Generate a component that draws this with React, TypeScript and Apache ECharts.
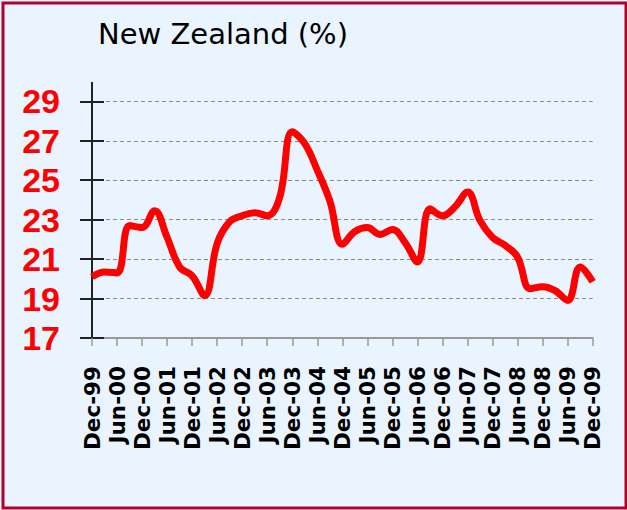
import React, { useEffect, useRef } from "react";
import * as echarts from "echarts";

const quarters = [
  "Dec-99", "Mar-00", "Jun-00", "Sep-00", "Dec-00", "Mar-01", "Jun-01", "Sep-01",
  "Dec-01", "Mar-02", "Jun-02", "Sep-02", "Dec-02", "Mar-03", "Jun-03", "Sep-03",
  "Dec-03", "Mar-04", "Jun-04", "Sep-04", "Dec-04", "Mar-05", "Jun-05", "Sep-05",
  "Dec-05", "Mar-06", "Jun-06", "Sep-06", "Dec-06", "Mar-07", "Jun-07", "Sep-07",
  "Dec-07", "Mar-08", "Jun-08", "Sep-08", "Dec-08", "Mar-09", "Jun-09", "Sep-09",
  "Dec-09",
];

const values = [
  20.1, 20.35, 20.3, 22.7, 22.6, 23.45, 22.1, 20.6, 20.15, 19.15,
  21.8, 22.9, 23.2, 23.35, 23.2, 24.15, 27.45, 26.85, 25.5, 23.95,
  21.75, 22.4, 22.6, 22.25, 22.5, 21.85, 20.85, 23.55, 23.2, 23.65,
  24.4, 22.95, 22.1, 21.7, 21.1, 19.5, 19.6, 19.4, 18.9, 20.6,
  19.85,
];

const titleText = "New Zealand (%)";
const yMin = 17;
const yMax = 29;
const yStep = 2;

export default function App() {
  const ref = useRef<HTMLDivElement>(null);

  useEffect(() => {
    if (!ref.current) return;
    const chart = echarts.init(ref.current, null, { renderer: "svg" });
    const axisY = {
      type: "value",
      min: yMin,
      max: yMax,
      interval: yStep,
      position: "left",
    };
    chart.setOption({
      animation: false,
      backgroundColor: "#EAF4FE",
      grid: { left: 92, right: 34.3, top: 101.3, bottom: 172, containLabel: false },
      graphic: [
        {
          type: "rect",
          shape: { x: 3, y: 3, width: 623, height: 505 },
          style: { fill: "none", stroke: "#B0002E", lineWidth: 3 },
          z: 100,
        },
        {
          type: "line",
          shape: { x1: 92, y1: 82, x2: 92, y2: 102 },
          style: { stroke: "#222", lineWidth: 2 },
          z: 100,
        },
        {
          type: "text",
          x: 98,
          y: 33.5,
          style: {
            text: titleText,
            fontFamily: "DejaVu Sans",
            fontSize: 29,
            fontWeight: "normal",
            fill: "#000",
            verticalAlign: "middle",
            align: "left",
          },
          z: 100,
        },
      ],
      xAxis: {
        type: "category",
        data: quarters,
        boundaryGap: false,
        axisLine: { show: true, lineStyle: { color: "#9A9A9A", width: 2 } },
        axisTick: {
          show: true,
          interval: 1,
          length: 8,
          lineStyle: { color: "#9A9A9A", width: 1.5 },
        },
        axisLabel: {
          interval: 1,
          rotate: 90,
          margin: 28,
          color: "#000",
          fontFamily: "DejaVu Sans",
          fontWeight: "bold",
          fontSize: 21.5,
        },
        splitLine: { show: false },
      },
      yAxis: [
        {
          ...axisY,
          axisLine: { show: true, onZero: false, lineStyle: { color: "#222", width: 2 } },
          axisTick: { show: true, inside: false, length: 12, lineStyle: { color: "#222", width: 2 } },
          axisLabel: {
            margin: 32,
            color: "#FF0000",
            fontFamily: "Liberation Sans",
            fontWeight: "bold",
            fontSize: 34,
          },
          splitLine: {
            show: true,
            lineStyle: { color: "#8C8C8C", width: 1.2, type: [4, 3] },
          },
        },
        {
          ...axisY,
          axisLine: { show: false },
          axisTick: { show: true, inside: true, length: 12, lineStyle: { color: "#222", width: 2 } },
          axisLabel: { show: false },
          splitLine: { show: false },
        },
      ],
      series: [
        {
          type: "line",
          data: values,
          yAxisIndex: 0,
          smooth: 0.4,
          symbol: "none",
          lineStyle: { color: "#FF0000", width: 7 },
          z: 5,
        },
      ],
    });
    return () => chart.dispose();
  }, []);

  return (
    <div
      ref={ref}
      style={{ position: "fixed", left: 0, top: 0, width: 627, height: 510 }}
    />
  );
}
